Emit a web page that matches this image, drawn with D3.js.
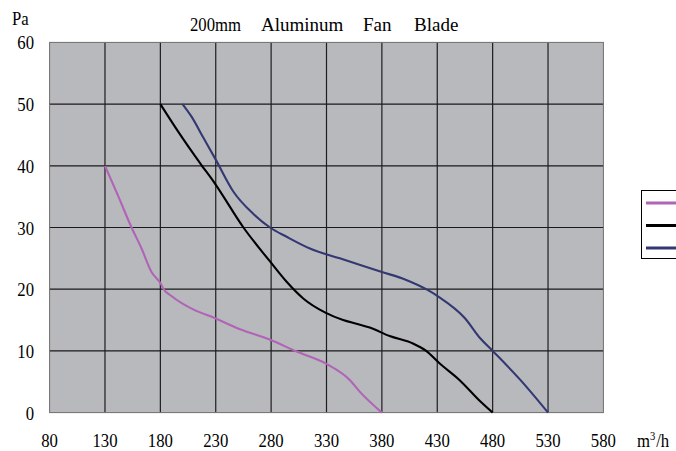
<!DOCTYPE html>
<html><head><meta charset="utf-8">
<script src="https://cdn.jsdelivr.net/npm/d3@7"></script>
<style>
html,body{margin:0;padding:0;background:#fff;overflow:hidden;}
text{font-family:"Liberation Serif","DejaVu Serif",serif;fill:#000;}
</style></head>
<body>
<svg id="c" width="676" height="451"></svg>
<script>
const titleWords = ["200mm","Aluminum","Fan","Blade"];
const yUnit = "Pa";
const xTicks = [80,130,180,230,280,330,380,430,480,530,580];
const yTicks = [0,10,20,30,40,50,60];
const seriesColors = ["#b064b6","#000000","#343872"];
// [flow m3/h, pressure Pa]
const pinkFlow  = [130,141,154,163,172,180,183,190,211,228,252,278,303,330,351,360,380];
const pinkPa    = [40,35.5,30,26.6,22.8,21,20,18.9,16.6,15.4,13.5,11.9,9.9,7.9,5.3,3.4,0];
const blackFlow = [180,197,216,229,255,279,294,309,329,345,357,369,387,408,420,432,450,469,480];
const blackPa   = [50,45.3,40.4,37.2,30,24.5,21.2,18.5,16.2,15,14.4,13.8,12.4,11.2,10,8,5.3,1.8,0];
const blueFlow  = [200,208,219,230,246,264,279,294,315,342,380,402,420,431,455,469,480,505,530];
const bluePa    = [50,48,44.5,41,35.8,32.2,30,28.5,26.6,25,22.8,21.5,20,18.8,15.3,12,10,5.3,0];

const svg = d3.select("#c");
const x = d3.scaleLinear().domain([80,580]).range([49.6,603.4]);
const y = d3.scaleLinear().domain([0,60]).range([412.6,42.4]);

svg.append("rect").attr("x",x(80)).attr("y",y(60)).attr("width",x(580)-x(80)).attr("height",y(0)-y(60))
  .attr("fill","#b8b9bd");

const g = svg.append("g");
g.selectAll(".vg").data(xTicks.slice(1,-1)).enter().append("line")
  .attr("x1",d=>x(d)).attr("x2",d=>x(d)).attr("y1",y(60)).attr("y2",y(0))
  .attr("stroke","#1e1e1e").attr("stroke-width",1.2);
g.selectAll(".hg").data(yTicks.slice(1,-1)).enter().append("line")
  .attr("x1",x(80)).attr("x2",x(580)).attr("y1",d=>y(d)).attr("y2",d=>y(d))
  .attr("stroke","#1a1a1a").attr("stroke-width",1.2);
svg.append("rect").attr("x",x(80)).attr("y",y(60)).attr("width",x(580)-x(80)).attr("height",y(0)-y(60))
  .attr("fill","none").attr("stroke","#6e6e6e").attr("stroke-width",1);

const series = [
  {f:pinkFlow,p:pinkPa,c:seriesColors[0]},
  {f:blackFlow,p:blackPa,c:seriesColors[1]},
  {f:blueFlow,p:bluePa,c:seriesColors[2]}
];
const line = d3.line().x(d=>x(d[0])).y(d=>y(d[1])).curve(d3.curveMonotoneX);
series.forEach(s=>{
  const pts = s.f.map((v,i)=>[v,s.p[i]]);
  svg.append("path").attr("d",line(pts)).attr("fill","none")
    .attr("stroke",s.c).attr("stroke-width",2.1).attr("stroke-linejoin","round");
});

const FS=19;
function txt(str, tx, ty, anchor, sx){
  return svg.append("text")
    .attr("transform",`translate(${tx},${ty}) scale(${sx},1)`)
    .attr("text-anchor",anchor).style("font-size",FS+"px").text(str);
}
xTicks.forEach(v=>txt(String(v), x(v), 446.5, "middle", 0.88));
yTicks.forEach(v=>txt(String(v), 34, y(v)+7, "end", 0.88));
txt(yUnit, 12, 25, "start", 0.88);
const titleStarts = [190, 261, 363, 414];
titleWords.forEach((w,i)=>txt(w, titleStarts[i], 31, "start", i===0?0.88:1));
const u = txt("", 637, 446.5, "start", 0.88);
u.append("tspan").text("m");
u.append("tspan").attr("dy",-7).style("font-size","12px").text("3");
u.append("tspan").attr("dy",7).attr("dx",1).text("/h");

// legend (cut off at right edge)
svg.append("rect").attr("x",641.5).attr("y",190.5).attr("width",80).attr("height",68)
  .attr("fill","#fff").attr("stroke","#000").attr("stroke-width",1);
svg.selectAll(".lg").data(series).enter().append("line")
  .attr("x1",646).attr("x2",690).attr("y1",(d,i)=>203+i*22.5).attr("y2",(d,i)=>203+i*22.5)
  .attr("stroke",d=>d.c).attr("stroke-width",3);
</script>
</body></html>
